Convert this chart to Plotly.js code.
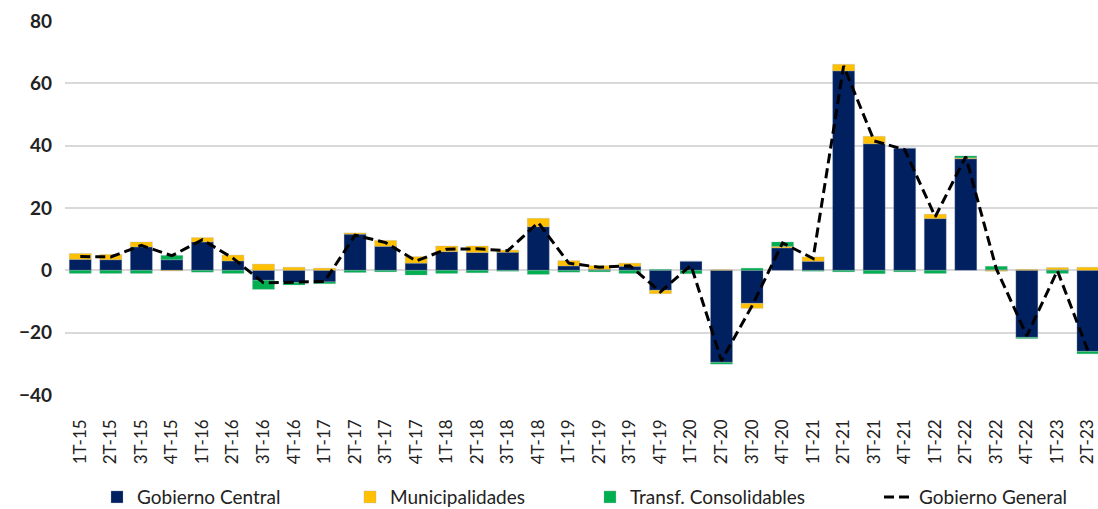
<!DOCTYPE html>
<html><head><meta charset="utf-8">
<script src="https://cdn.plot.ly/plotly-3.0.1.min.js"></script>
<style>body{margin:0;background:#fff}#c{width:1098px;height:509px}</style>
</head><body><div id="c"></div>
<script>
const categories = ["1T-15","2T-15","3T-15","4T-15","1T-16","2T-16","3T-16","4T-16","1T-17","2T-17","3T-17","4T-17","1T-18","2T-18","3T-18","4T-18","1T-19","2T-19","3T-19","4T-19","1T-20","2T-20","3T-20","4T-20","1T-21","2T-21","3T-21","4T-21","1T-22","2T-22","3T-22","4T-22","1T-23","2T-23"];
const gobiernoCentral = [3.5,3.4,7.5,3.4,9.1,3.0,-3.2,-3.9,-3.7,11.6,7.7,2.3,6.0,5.7,5.8,14.0,1.4,0.3,1.3,-6.4,2.9,-29.5,-10.6,7.2,2.9,64.0,40.6,39.2,16.6,35.8,0.2,-21.5,0.2,-26.0];
const municipalidades = [1.9,1.7,1.6,-0.2,1.4,1.9,2.0,1.0,0.7,0.4,1.9,2.1,1.8,2.1,0.7,2.7,1.7,1.2,1.0,-1.1,0.0,0.2,-1.6,0.5,1.4,2.1,2.4,0.0,1.4,0.3,-0.3,0.3,0.7,1.0];
const transfConsolidables = [-1.0,-1.0,-1.0,1.4,-0.6,-1.0,-2.9,-0.8,-0.6,-0.7,-0.5,-1.5,-1.0,-0.8,-0.3,-1.3,-0.6,-0.5,-1.0,0.3,-1.1,-0.6,0.7,1.4,-0.3,-0.5,-1.1,-0.5,-1.0,0.6,1.1,-0.4,-1.0,-0.8];
const gobiernoGeneral = [4.4,4.3,8.0,4.7,9.8,3.9,-4.0,-3.7,-3.6,11.3,8.9,3.0,6.8,6.9,6.3,15.3,2.3,1.0,1.5,-6.9,1.6,-29.0,-11.4,8.8,3.8,65.6,41.5,38.7,17.2,36.5,0.5,-21.0,-0.1,-25.8];

const font = "Lato, 'Open Sans', sans-serif";
const edge = {color:'rgba(160,170,190,0.6)', width:0.5};
const traces = [
  {type:'bar', name:'Gobierno Central', legend:'legend', x:categories, y:gobiernoCentral, marker:{color:'#002060', line:edge}},
  {type:'bar', name:'Municipalidades', legend:'legend2', x:categories, y:municipalidades, marker:{color:'#FFC000', line:edge}},
  {type:'bar', name:'Transf. Consolidables', legend:'legend3', x:categories, y:transfConsolidables, marker:{color:'#00B050', line:edge}},
  {type:'scatter', mode:'lines', name:'Gobierno General', legend:'legend4', x:categories, y:gobiernoGeneral, line:{color:'#000', width:3, dash:'10px,5px'}}
];
function leg(x){ return {orientation:'h', x:x, xanchor:'left', y:-0.273, yanchor:'middle', font:{size:19, family:font, color:'#222'}, bgcolor:'rgba(0,0,0,0)'}; }
const layout = {
  width:1098, height:509,
  margin:{l:65, r:0, t:21, b:114, autoexpand:false},
  barmode:'relative', bargap:0.28,
  paper_bgcolor:'#fff', plot_bgcolor:'#fff',
  font:{family:font, color:'#222'},
  showlegend:true,
  legend:leg(0.031), legend2:leg(0.2759), legend3:leg(0.5082), legend4:leg(0.788),
  xaxis:{type:'category', range:[-0.5,33.33], tickangle:-90, showgrid:false, zeroline:false, showline:false, ticks:'', ticklabelstandoff:20, tickfont:{size:17, family:font, color:'#222'}},
  yaxis:{range:[-40,80], dtick:20, tick0:0, showgrid:true, gridcolor:'#d9d9d9', gridwidth:2, zeroline:true, zerolinecolor:'#d9d9d9', zerolinewidth:2, showline:false, ticks:'', ticklabelstandoff:12, tickfont:{size:19, family:font, color:'#222', weight:'bold'}}
};
Plotly.newPlot('c', traces, layout, {displayModeBar:false, staticPlot:true});
</script></body></html>
